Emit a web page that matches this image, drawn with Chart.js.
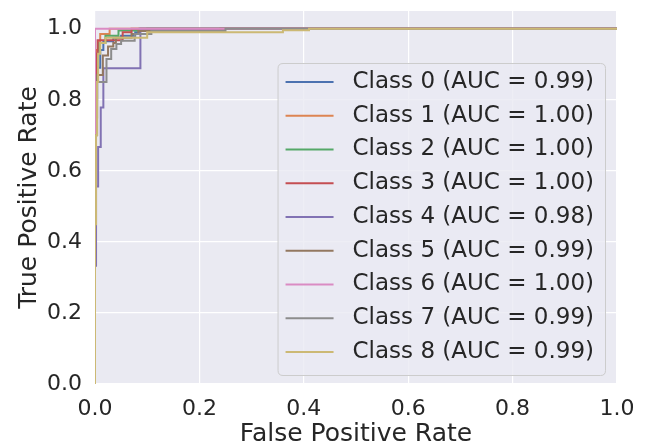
<!DOCTYPE html>
<html>
<head>
<meta charset="utf-8">
<script src="https://cdn.jsdelivr.net/npm/chart.js@4/dist/chart.umd.min.js"></script>
<style>
  html, body { margin: 0; padding: 0; background: #ffffff; }
  #wrap { width: 646px; height: 444px; position: relative; }
</style>
</head>
<body>
<div id="wrap"><canvas id="c" width="646" height="444"></canvas></div>
<script>
// ---- data ----
const classNames = ['Class 0', 'Class 1', 'Class 2', 'Class 3', 'Class 4', 'Class 5', 'Class 6', 'Class 7', 'Class 8'];
const aucValues = ['0.99', '1.00', '1.00', '1.00', '0.98', '0.99', '1.00', '0.99', '0.99'];

const fpr0 = [0, 0, 0.004, 0.004, 0.010, 0.010, 0.016, 0.016, 0.035, 0.035, 0.050, 0.050, 0.077, 0.077, 0.085, 0.085, 1];
const tpr0 = [0, 0.80, 0.80, 0.89, 0.89, 0.94, 0.94, 0.965, 0.965, 0.975, 0.975, 0.98, 0.98, 0.99, 0.99, 1, 1];

const fpr1 = [0, 0, 0.003, 0.003, 0.006, 0.006, 0.010, 0.010, 0.028, 0.028, 1];
const tpr1 = [0, 0.88, 0.88, 0.94, 0.94, 0.965, 0.965, 0.985, 0.985, 1, 1];

const fpr2 = [0, 0, 0.004, 0.004, 0.008, 0.008, 0.020, 0.020, 0.045, 0.045, 0.10, 0.10, 1];
const tpr2 = [0, 0.85, 0.85, 0.93, 0.93, 0.96, 0.96, 0.98, 0.98, 0.995, 0.995, 1, 1];

const fpr3 = [0, 0, 0.002, 0.002, 0.005, 0.005, 0.053, 0.053, 0.070, 0.070, 1];
const tpr3 = [0, 0.87, 0.87, 0.93, 0.93, 0.968, 0.968, 0.99, 0.99, 1, 1];

const fpr4 = [0, 0, 0.002, 0.002, 0.006, 0.006, 0.011, 0.011, 0.016, 0.016, 0.087, 0.087, 1];
const tpr4 = [0, 0.333, 0.333, 0.556, 0.556, 0.667, 0.667, 0.778, 0.778, 0.889, 0.889, 1, 1];

const fpr5 = [0, 0, 0.004, 0.004, 0.015, 0.015, 0.025, 0.025, 0.035, 0.035, 0.040, 0.040, 0.070, 0.070, 0.083, 0.083, 0.24, 0.24, 1];
const tpr5 = [0, 0.75, 0.75, 0.87, 0.87, 0.925, 0.925, 0.95, 0.95, 0.96, 0.96, 0.975, 0.975, 0.985, 0.985, 0.994, 0.994, 1, 1];

const fpr6 = [0, 0, 1];
const tpr6 = [0, 1, 1];

const fpr7 = [0, 0, 0.004, 0.004, 0.022, 0.022, 0.031, 0.031, 0.041, 0.041, 0.050, 0.050, 0.076, 0.076, 0.108, 0.108, 0.25, 0.25, 1];
const tpr7 = [0, 0.70, 0.70, 0.85, 0.85, 0.915, 0.915, 0.943, 0.943, 0.957, 0.957, 0.966, 0.966, 0.985, 0.985, 0.994, 0.994, 1, 1];

const fpr8 = [0, 0, 0.002, 0.002, 0.004, 0.004, 0.006, 0.006, 0.010, 0.010, 0.020, 0.020, 0.10, 0.10, 0.36, 0.36, 0.41, 0.41, 1];
const tpr8 = [0, 0.45, 0.45, 0.70, 0.70, 0.85, 0.85, 0.93, 0.93, 0.96, 0.96, 0.975, 0.975, 0.99, 0.99, 0.996, 0.996, 1, 1];

const fprList = [fpr0, fpr1, fpr2, fpr3, fpr4, fpr5, fpr6, fpr7, fpr8];
const tprList = [tpr0, tpr1, tpr2, tpr3, tpr4, tpr5, tpr6, tpr7, tpr8];

const xTicks = [0, 0.2, 0.4, 0.6, 0.8, 1.0];
const yTicks = [0, 0.2, 0.4, 0.6, 0.8, 1.0];

// ---- styles ----
const palette = ['#4C72B0', '#DD8452', '#55A868', '#C44E52', '#8172B3', '#937860', '#DA8BC3', '#8C8C8C', '#CCB974'];
const FONT = "'DejaVu Sans', 'Liberation Sans', sans-serif";
const TEXT = '#262626';

const datasets = classNames.map((name, i) => ({
  label: name + ' (AUC = ' + aucValues[i] + ')',
  data: fprList[i].map((x, k) => ({ x: x, y: tprList[i][k] })),
  borderColor: palette[i],
  backgroundColor: palette[i],
  borderWidth: 2,
  pointRadius: 0,
  showLine: true,
  fill: false,
  tension: 0,
  order: classNames.length - 1 - i
}));

const bgPlugin = {
  id: 'bg',
  beforeDraw(chart) {
    const { ctx, chartArea: a } = chart;
    ctx.save();
    ctx.fillStyle = '#EAEAF2';
    ctx.fillRect(a.left, a.top, a.right - a.left, a.bottom - a.top);
    ctx.restore();
  }
};

function roundRect(ctx, x, y, w, h, r) {
  ctx.beginPath();
  ctx.moveTo(x + r, y);
  ctx.lineTo(x + w - r, y);
  ctx.quadraticCurveTo(x + w, y, x + w, y + r);
  ctx.lineTo(x + w, y + h - r);
  ctx.quadraticCurveTo(x + w, y + h, x + w - r, y + h);
  ctx.lineTo(x + r, y + h);
  ctx.quadraticCurveTo(x, y + h, x, y + h - r);
  ctx.lineTo(x, y + r);
  ctx.quadraticCurveTo(x, y, x + r, y);
  ctx.closePath();
}

const legendPlugin = {
  id: 'innerLegend',
  afterDraw(chart) {
    const { ctx, chartArea: a } = chart;
    const ds = chart.data.datasets;
    ctx.save();
    ctx.font = '23px ' + FONT;
    let tw = 0;
    ds.forEach(d => { tw = Math.max(tw, ctx.measureText(d.label).width); });
    const rowH = 33.75;
    const right = a.right - 12;
    const bottom = a.bottom - 9;
    const h = rowH * (ds.length - 1) + 19 + 23;
    const top = bottom - h;
    const w = 8 + 48 + 19 + tw + 11;
    const left = right - w;
    roundRect(ctx, left + 0.5, top + 0.5, w, h, 5);
    ctx.fillStyle = 'rgba(234,234,242,0.8)';
    ctx.fill();
    ctx.strokeStyle = '#CCCCCC';
    ctx.lineWidth = 1;
    ctx.stroke();
    ds.forEach((d, i) => {
      const cy = top + 19 + rowH * i;
      ctx.beginPath();
      ctx.moveTo(left + 8, cy);
      ctx.lineTo(left + 8 + 48, cy);
      ctx.strokeStyle = d.borderColor;
      ctx.lineWidth = 2;
      ctx.stroke();
      ctx.fillStyle = TEXT;
      ctx.textBaseline = 'middle';
      ctx.textAlign = 'left';
      ctx.fillText(d.label, left + 8 + 48 + 19, cy);
    });
    ctx.restore();
  }
};

new Chart(document.getElementById('c'), {
  type: 'scatter',
  data: { datasets: datasets },
  plugins: [bgPlugin, legendPlugin],
  options: {
    responsive: false,
    animation: false,
    devicePixelRatio: 1,
    layout: { padding: { left: 0, right: 29, top: 11, bottom: 0 } },
    plugins: { legend: { display: false }, tooltip: { enabled: false } },
    scales: {
      x: {
        type: 'linear',
        min: 0, max: 1,
        afterBuildTicks(scale) { scale.ticks = xTicks.map(v => ({ value: v })); },
        afterFit(scale) { scale.height = 60; scale.paddingLeft = 0; scale.paddingRight = 0; },
        border: { display: false },
        grid: { color: '#FFFFFF', lineWidth: 1.2, drawTicks: false },
        ticks: {
          padding: 12,
          color: TEXT,
          font: { family: FONT, size: 22 },
          maxRotation: 0,
          callback: v => v.toFixed(1)
        },
        title: {
          display: true,
          text: 'False Positive Rate',
          color: TEXT,
          font: { family: FONT, size: 25, lineHeight: 1 },
          padding: { top: 0, bottom: -3 }
        }
      },
      y: {
        type: 'linear',
        min: 0, max: 1.05,
        afterBuildTicks(scale) { scale.ticks = yTicks.map(v => ({ value: v })); },
        afterFit(scale) { scale.width = 95; scale.paddingTop = 0; scale.paddingBottom = 0; },
        border: { display: false },
        grid: { color: '#FFFFFF', lineWidth: 1.2, drawTicks: false },
        ticks: {
          padding: 13,
          color: TEXT,
          font: { family: FONT, size: 22 },
          callback: v => v.toFixed(1)
        },
        title: {
          display: true,
          text: 'True Positive Rate',
          color: TEXT,
          font: { family: FONT, size: 25, lineHeight: 1 },
          padding: { top: 17, bottom: 0 }
        }
      }
    }
  }
});
</script>
</body>
</html>
